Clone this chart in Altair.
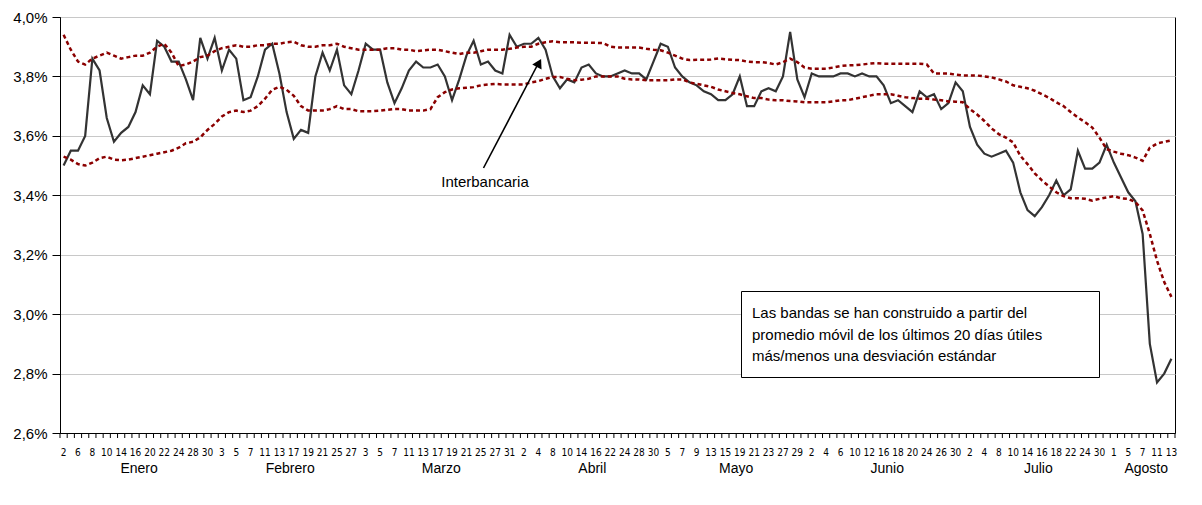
import altair as alt
import pandas as pd

# Day-of-month tick labels (one every other business day)
dias = [2, 6, 8, 10, 14, 16, 20, 22, 24, 28, 30,
        3, 5, 7, 11, 13, 17, 19, 21, 25, 27,
        3, 5, 7, 11, 13, 17, 19, 21, 25, 27, 31,
        2, 4, 8, 10, 14, 16, 22, 24, 28, 30,
        5, 7, 9, 13, 15, 19, 21, 23, 27, 29,
        2, 4, 6, 10, 12, 16, 18, 20, 24, 26, 30,
        2, 4, 8, 10, 14, 16, 18, 22, 24, 30,
        1, 5, 7, 11, 13]
meses = ["Enero", "Febrero", "Marzo", "Abril", "Mayo", "Junio", "Julio", "Agosto"]

interbancaria = [
    3.50, 3.55, 3.55, 3.60, 3.86, 3.82, 3.66, 3.58, 3.61, 3.63,
    3.68, 3.77, 3.74, 3.92, 3.90, 3.85, 3.85, 3.79, 3.72, 3.93,
    3.86, 3.93, 3.82, 3.89, 3.86, 3.72, 3.73, 3.80, 3.89, 3.91,
    3.81, 3.68, 3.59, 3.62, 3.61, 3.80, 3.88, 3.82, 3.89, 3.77,
    3.74, 3.82, 3.91, 3.89, 3.89, 3.78, 3.71, 3.76, 3.82, 3.85,
    3.83, 3.83, 3.84, 3.80, 3.72, 3.79, 3.87, 3.92, 3.84, 3.85,
    3.82, 3.81, 3.94, 3.90, 3.91, 3.91, 3.93, 3.89, 3.80, 3.76,
    3.79, 3.78, 3.83, 3.84, 3.81, 3.80, 3.80, 3.81, 3.82, 3.81,
    3.81, 3.79, 3.85, 3.91, 3.90, 3.83, 3.80, 3.78, 3.77, 3.75,
    3.74, 3.72, 3.72, 3.74, 3.80, 3.70, 3.70, 3.75, 3.76, 3.75,
    3.80, 3.95, 3.79, 3.73, 3.81, 3.80, 3.80, 3.80, 3.81, 3.81,
    3.80, 3.81, 3.80, 3.80, 3.77, 3.71, 3.72, 3.70, 3.68, 3.75,
    3.73, 3.74, 3.69, 3.71, 3.78, 3.75, 3.63, 3.57, 3.54, 3.53,
    3.54, 3.55, 3.51, 3.41, 3.35, 3.33, 3.36, 3.40, 3.45, 3.40,
    3.42, 3.55, 3.49, 3.49, 3.51, 3.57, 3.51, 3.46, 3.41, 3.38,
    3.27, 2.90, 2.77, 2.80, 2.85]

banda_superior = [
    3.94, 3.89, 3.85, 3.84, 3.86, 3.87, 3.88, 3.87, 3.86, 3.865,
    3.87, 3.87, 3.88, 3.90, 3.91, 3.88, 3.835, 3.84, 3.85, 3.865,
    3.87, 3.885, 3.895, 3.90, 3.905, 3.90, 3.90, 3.905, 3.905, 3.91,
    3.91, 3.915, 3.917, 3.905, 3.90, 3.90, 3.905, 3.905, 3.91, 3.90,
    3.895, 3.89, 3.89, 3.89, 3.89, 3.895, 3.895, 3.89, 3.89, 3.885,
    3.888, 3.89, 3.89, 3.885, 3.88, 3.875, 3.88, 3.88, 3.885, 3.89,
    3.89, 3.89, 3.893, 3.897, 3.90, 3.90, 3.91, 3.915, 3.918, 3.915,
    3.915, 3.915, 3.913, 3.913, 3.913, 3.912, 3.90, 3.897, 3.897, 3.897,
    3.897, 3.893, 3.89, 3.888, 3.88, 3.87, 3.86, 3.855, 3.856, 3.856,
    3.857, 3.86, 3.858, 3.856, 3.855, 3.85, 3.848, 3.848, 3.845, 3.84,
    3.848, 3.86, 3.848, 3.83, 3.826, 3.826, 3.826, 3.83, 3.835, 3.837,
    3.838, 3.84, 3.843, 3.845, 3.843, 3.843, 3.843, 3.843, 3.843, 3.843,
    3.84, 3.81, 3.81, 3.81, 3.806, 3.803, 3.803, 3.803, 3.80, 3.797,
    3.79, 3.783, 3.77, 3.765, 3.76, 3.752, 3.74, 3.728, 3.713, 3.70,
    3.68, 3.662, 3.646, 3.628, 3.594, 3.555, 3.547, 3.54, 3.535, 3.527,
    3.516, 3.56, 3.574, 3.58, 3.585]

banda_inferior = [
    3.53, 3.52, 3.505, 3.50, 3.51, 3.525, 3.53, 3.52, 3.518, 3.52,
    3.525, 3.53, 3.535, 3.54, 3.545, 3.55, 3.56, 3.575, 3.58, 3.595,
    3.62, 3.64, 3.665, 3.68, 3.685, 3.68, 3.685, 3.70, 3.725, 3.755,
    3.765, 3.755, 3.735, 3.70, 3.685, 3.685, 3.685, 3.69, 3.70, 3.69,
    3.69, 3.683, 3.683, 3.683, 3.685, 3.688, 3.69, 3.69, 3.685, 3.685,
    3.685, 3.69, 3.73, 3.747, 3.756, 3.76, 3.762, 3.764, 3.77, 3.773,
    3.775, 3.773, 3.773, 3.773, 3.773, 3.78, 3.784, 3.792, 3.798, 3.798,
    3.792, 3.787, 3.789, 3.792, 3.80, 3.80, 3.80, 3.80, 3.792, 3.79,
    3.79, 3.787, 3.787, 3.787, 3.787, 3.79, 3.79, 3.78, 3.775, 3.77,
    3.765, 3.756, 3.75, 3.744, 3.74, 3.733, 3.727, 3.727, 3.722, 3.72,
    3.72, 3.717, 3.716, 3.713, 3.713, 3.713, 3.713, 3.716, 3.72, 3.72,
    3.725, 3.73, 3.735, 3.74, 3.74, 3.74, 3.735, 3.73, 3.727, 3.725,
    3.725, 3.722, 3.72, 3.716, 3.715, 3.713, 3.69, 3.672, 3.65, 3.625,
    3.606, 3.594, 3.578, 3.533, 3.505, 3.474, 3.45, 3.43, 3.41, 3.397,
    3.39, 3.39, 3.388, 3.382, 3.388, 3.393, 3.397, 3.39, 3.388, 3.377,
    3.349, 3.27, 3.18, 3.108, 3.058]

nota = ["Las bandas se han construido a partir del",
        "promedio móvil de los últimos 20 días útiles",
        "más/menos una desviación estándar"]
etiqueta_serie = "Interbancaria"

n = len(interbancaria)
idx = list(range(n))

# month of every labelled point (a new month starts when the day number drops)
mes_de_etiqueta = []
m = 0
for k, d in enumerate(dias):
    if k > 0 and d < dias[k - 1]:
        m += 1
    mes_de_etiqueta.append(m)
centros = []
for mi in range(len(meses)):
    pos = [2 * k for k, mm in enumerate(mes_de_etiqueta) if mm == mi]
    centros.append(sum(pos) / len(pos) + 0.5)

df = pd.DataFrame({"idx": idx, "Interbancaria": interbancaria,
                   "Banda superior": banda_superior, "Banda inferior": banda_inferior})
df_bandas = df.melt(id_vars="idx", value_vars=["Banda superior", "Banda inferior"],
                    var_name="banda", value_name="valor")
df_meses = pd.DataFrame({"mes": meses, "pos": centros})
df_dias = pd.DataFrame({"pos": [2 * k for k in range(len(dias))], "dia": [str(d) for d in dias]})
df_limites = pd.DataFrame({"b": [i - 0.5 for i in range(n + 1)]})

FONT = "Liberation Sans, Arial, sans-serif"
NARROW = "Liberation Sans Narrow, Arial Narrow, DejaVu Sans Condensed, Liberation Sans, sans-serif"

xscale = alt.Scale(domain=[-0.5, n - 0.5], nice=False, zero=False)
yscale = alt.Scale(domain=[2.6, 4.0], nice=False, zero=False)

xaxis = alt.Axis(labels=False, ticks=False, title=None, grid=False, domainColor="black")
yaxis = alt.Axis(values=[round(2.6 + 0.2 * k, 1) for k in range(8)],
                 labelExpr="replace(format(datum.value, '.1f'), '.', ',') + '%'",
                 title=None, grid=True, gridColor="#c8c8c8", gridWidth=1,
                 tickSize=8, labelPadding=5, labelFont=FONT, labelFontSize=15,
                 labelColor="black", domainColor="black", tickColor="black")

linea = alt.Chart(df).mark_line(color="#333333", strokeWidth=2.2).encode(
    x=alt.X("idx:Q", scale=xscale, axis=xaxis),
    y=alt.Y("Interbancaria:Q", scale=yscale, axis=yaxis),
)

bandas = alt.Chart(df_bandas).mark_line(color="#8b0000", strokeWidth=2.5, strokeDash=[4, 3]).encode(
    x="idx:Q",
    y="valor:Q",
    detail="banda:N",
)

marcas_x = alt.Chart(df_limites).mark_rule(color="black", strokeWidth=1).encode(
    x="b:Q", y=alt.value(416), y2=alt.value(421)
)

texto_dias = alt.Chart(df_dias).mark_text(font=NARROW, fontSize=10, color="black",
                                          baseline="middle", align="center").encode(
    x="pos:Q", y=alt.value(436), text="dia:N"
)

texto_meses = alt.Chart(df_meses).mark_text(font=FONT, fontSize=14, color="black",
                                            baseline="middle", align="center").encode(
    x="pos:Q",
    y=alt.value(452),
    text="mes:N",
)

caja = alt.Chart(pd.DataFrame({"k": [0]})).mark_rect(fill="white", stroke="black", strokeWidth=1).encode(
    x=alt.value(681.5), x2=alt.value(1039.5), y=alt.value(274.5), y2=alt.value(360.5)
)

texto_nota = alt.Chart(pd.DataFrame({"k": [0]})).mark_text(
    text=nota, font=FONT, fontSize=15, color="black", align="left",
    baseline="alphabetic", lineHeight=21.7
).encode(x=alt.value(692), y=alt.value(301))

texto_serie = alt.Chart(pd.DataFrame({"t": [etiqueta_serie]})).mark_text(
    font=FONT, fontSize=15, color="black", align="center", baseline="middle"
).encode(x=alt.value(425), y=alt.value(165), text="t:N")

flecha = alt.Chart(pd.DataFrame({"k": [0]})).mark_rule(color="black", strokeWidth=1.6).encode(
    x=alt.value(423.5), y=alt.value(151), x2=alt.value(478.5), y2=alt.value(46)
)
punta = alt.Chart(pd.DataFrame({"k": [0]})).mark_point(
    shape="triangle-up", filled=True, size=110, angle=27.6, color="black", opacity=1
).encode(x=alt.value(479), y=alt.value(46))

chart = alt.layer(linea, bandas, marcas_x, texto_dias, texto_meses, caja, texto_nota,
                  texto_serie, flecha, punta).properties(
    width=1115, height=416,
    autosize=alt.AutoSizeParams(type="none"),
    padding={"left": 52, "top": 9, "right": 15, "bottom": 70},
).configure_view(stroke="black", strokeWidth=1)

chart.save("out.html", embed_options={"renderer": "svg", "actions": False})
